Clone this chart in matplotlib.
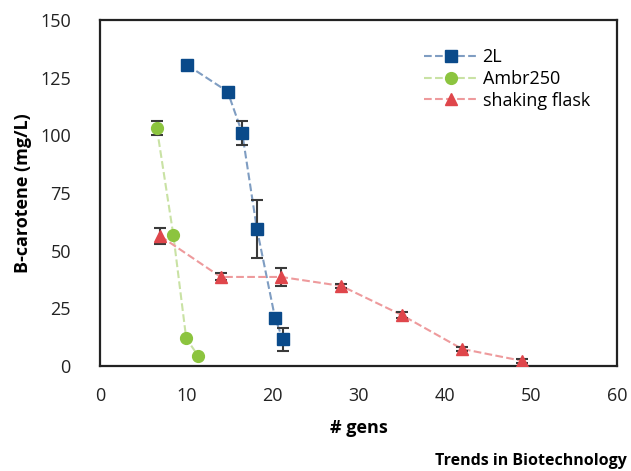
import matplotlib
matplotlib.use("Agg")
import matplotlib.pyplot as plt

plt.rcParams['font.family'] = ['Open Sans', 'DejaVu Sans']

# 2L bioreactor
gens_2l = [10.1, 14.8, 16.5, 18.2, 20.3, 21.2]
caro_2l = [130.5, 119, 101, 59.5, 21, 11.5]
err_2l = [0, 0, 5, 12.5, 0, 5]

# Ambr250
gens_ambr = [6.6, 8.5, 10.0, 11.4]
caro_ambr = [103, 57, 12, 4.3]
err_ambr = [3, 0, 0, 0]

# shaking flask
gens_flask = [7, 14, 21, 28, 35, 42, 49]
caro_flask = [56.3, 38.6, 38.6, 34.7, 22.1, 7.4, 2.2]
err_flask = [3.5, 1.5, 4, 1, 1.5, 1, 1]

xticks = [0, 10, 20, 30, 40, 50, 60]
yticks = [0, 25, 50, 75, 100, 125, 150]

fig = plt.figure(figsize=(6.31, 4.71), dpi=100)
ax = fig.add_axes([0.1585, 0.223, 0.8195, 0.7345])

series = [
    ("2L", gens_2l, caro_2l, err_2l, "#0A4A8A", "#7F9DC2", "s", 8.5),
    ("Ambr250", gens_ambr, caro_ambr, err_ambr, "#8CC43F", "#C9E2A4", "o", 8.5),
    ("shaking flask", gens_flask, caro_flask, err_flask, "#DF464B", "#EE9A9C", "^", 8.5),
]

handles = []
for name, x, y, e, mc, lc, mk, ms in series:
    ax.errorbar(x, y, yerr=e, fmt="none", ecolor="#3a3a3a", elinewidth=1.5,
                capsize=4, capthick=1.5, zorder=2)
    ax.plot(x, y, linestyle="--", color=lc, linewidth=1.5, zorder=1)
    ax.plot(x, y, linestyle="none", marker=mk, markersize=ms, color=mc, zorder=3)
    h, = ax.plot([], [], linestyle="--", color=lc, linewidth=1.5,
                 marker=mk, markersize=ms, markerfacecolor=mc, markeredgecolor=mc)
    handles.append(h)

ax.set_xlim(0, 60)
ax.set_ylim(0, 150)
ax.set_xticks(xticks)
ax.set_yticks(yticks)
ax.tick_params(length=0, labelsize=13, colors="#222222")
ax.tick_params(axis="x", pad=15)
ax.tick_params(axis="y", pad=21)
for s in ax.spines.values():
    s.set_linewidth(1.6)
    s.set_color("#222222")

ax.set_xlabel("# gens", fontsize=13, fontweight="bold", labelpad=10)
ax.set_ylabel("B-carotene (mg/L)", fontsize=13, fontweight="bold", labelpad=6)

ax.legend(handles, [s[0] for s in series], loc="upper left",
          bbox_to_anchor=(0.595, 0.965), frameon=False, fontsize=13,
          handlelength=3.0, handletextpad=0.25, labelspacing=0.2)

fig.text(0.994, 0.021, "Trends in Biotechnology", ha="right", va="center",
         fontsize=11.5, fontweight="bold", color="black")

fig.savefig("out.png", dpi=100)
